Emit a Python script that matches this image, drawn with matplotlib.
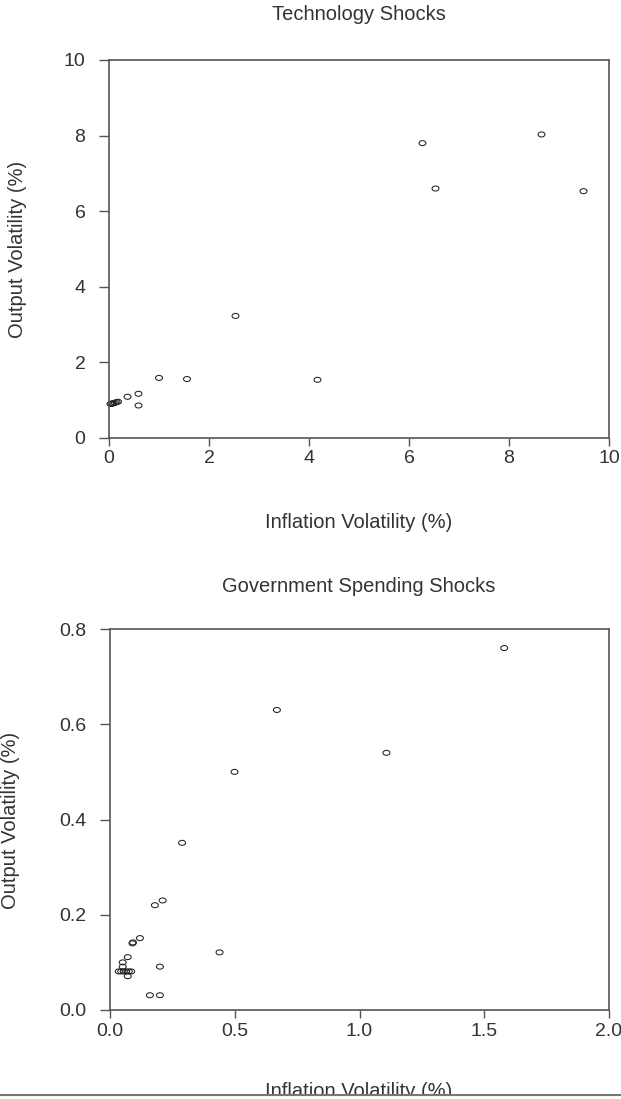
import numpy as np
import matplotlib
matplotlib.use("Agg")
import matplotlib.pyplot as plt
from matplotlib.path import Path
from matplotlib.patches import Rectangle
from matplotlib.lines import Line2D

# technology shocks: inflation vs output volatility (%)
tech_infl = [0.03, 0.05, 0.07, 0.09, 0.12, 0.15, 0.18,
             0.37, 0.59, 0.59, 1.00, 1.56, 2.53, 4.17,
             6.27, 6.53, 8.65, 9.49]
tech_out = [0.90, 0.91, 0.91, 0.92, 0.93, 0.95, 0.96,
            1.09, 1.17, 0.86, 1.59, 1.56, 3.23, 1.54,
            7.80, 6.60, 8.03, 6.53]

# government spending shocks
gov_infl = [0.035, 0.045, 0.055, 0.065, 0.075, 0.085, 0.071,
            0.051, 0.051, 0.071, 0.09, 0.092, 0.12, 0.18, 0.211,
            0.16, 0.20, 0.20, 0.289, 0.439, 0.499, 0.669, 1.108, 1.58]
gov_out = [0.081, 0.081, 0.081, 0.081, 0.081, 0.081, 0.071,
           0.091, 0.10, 0.111, 0.14, 0.142, 0.151, 0.22, 0.23,
           0.031, 0.031, 0.091, 0.351, 0.121, 0.50, 0.63, 0.54, 0.76]

tech_xticks = [0, 2, 4, 6, 8, 10]
tech_yticks = [0, 2, 4, 6, 8, 10]
gov_xticks = [0.0, 0.5, 1.0, 1.5, 2.0]
gov_yticks = [0.0, 0.2, 0.4, 0.6, 0.8]

W, H = 621, 1099
TXT = "#333333"
AX = "#555555"
LBL = 14.5

plt.rcParams["font.family"] = ["Liberation Sans", "DejaVu Sans"]

# slightly flattened open circle, like the reference
circ = Path.unit_circle()
ell = Path(circ.vertices * np.array([1.0, 0.72]), circ.codes)

fig = plt.figure(figsize=(W / 100, H / 100), dpi=100)


def fy(py):
    return 1 - py / H


def panel(rect, xs, ys, xt, yt, fmt):
    ax = fig.add_axes(rect)
    ax.scatter(xs, ys, marker=ell, s=25, facecolors="none",
               edgecolors="#222222", linewidths=0.75, clip_on=False)
    ax.set_xlim(xt[0], xt[-1])
    ax.set_ylim(yt[0], yt[-1])
    ax.set_xticks(xt)
    ax.set_yticks(yt)
    ax.set_xticklabels([fmt % v for v in xt])
    ax.set_yticklabels([fmt % v for v in yt])
    for s in ax.spines.values():
        s.set_color(AX)
        s.set_linewidth(1.2)
    ax.tick_params(axis="x", length=6, width=1.0, color=AX, pad=3,
                   labelsize=14, labelcolor=TXT)
    ax.tick_params(axis="y", length=7, width=1.0, color=AX, pad=10,
                   labelsize=14, labelcolor=TXT)
    return ax


panel([109 / W, fy(438), 500 / W, 378 / H], tech_infl, tech_out,
      tech_xticks, tech_yticks, "%d")
panel([110 / W, fy(1010), 499 / W, 381 / H], gov_infl, gov_out,
      gov_xticks, gov_yticks, "%.1f")

# titles and axis labels
fig.text(359 / W, fy(14), "Technology Shocks", ha="center", va="center",
         fontsize=LBL, color=TXT)
fig.text(359 / W, fy(523), "Inflation Volatility (%)", ha="center",
         va="center", fontsize=LBL, color=TXT)
fig.text(18 / W, fy(249), "Output Volatility (%)", ha="center",
         va="center", rotation=90, fontsize=LBL, color=TXT)

fig.text(359 / W, fy(587), "Government Spending Shocks", ha="center",
         va="center", fontsize=LBL, color=TXT)
fig.text(11 / W, fy(820), "Output Volatility (%)", ha="center",
         va="center", rotation=90, fontsize=LBL, color=TXT)
fig.text(359 / W, fy(1097), "Inflation Volatility (%)", ha="center",
         va="baseline", fontsize=LBL, color=TXT)

# the page is cut off at the bottom
fig.patches.append(Rectangle((0, 0), 1, fy(1094.5), transform=fig.transFigure,
                             facecolor="white", edgecolor="none", zorder=10))
fig.lines.append(Line2D([0, 1], [fy(1094.5), fy(1094.5)],
                        transform=fig.transFigure, color="#777777",
                        linewidth=1.5, zorder=11))

fig.savefig("out.png", dpi=100)
